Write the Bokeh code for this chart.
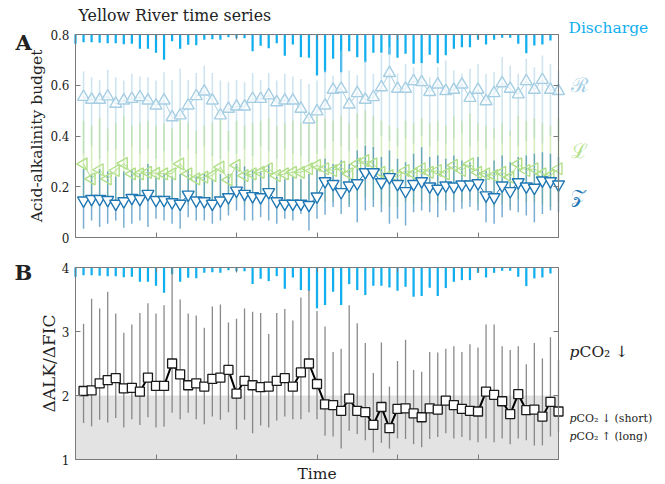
import numpy as np
from bokeh.plotting import figure
from bokeh.layouts import column
from bokeh.models import Range1d, FixedTicker, LinearAxis, Label, BoxAnnotation
from bokeh.embed import file_html
from bokeh.resources import INLINE

# ---------------- data ----------------
time_idx = list(range(1, 61))          # sample index (markers)
discharge_idx = list(range(0, 60))     # discharge sample index

# relative discharge (arbitrary units)
discharge = [0.28, 0.23, 0.23, 0.25, 0.26, 0.26, 0.29, 0.28, 0.43, 0.43, 0.55, 0.76, 0.20, 0.43, 0.31,
             0.32, 0.16, 0.14, 0.16, 0.08, 0.11, 0.11, 0.50, 0.34, 0.41, 0.26, 0.64, 0.30, 0.68, 0.70,
             1.23, 1.13, 0.73, 1.13, 0.50, 0.68, 0.83, 0.55, 0.55, 0.60, 0.70, 0.58, 0.88, 0.86, 0.61,
             0.86, 0.62, 0.43, 0.38, 0.38, 0.16, 0.30, 0.16, 0.10, 0.10, 0.28, 0.56, 0.33, 0.30, 0.18]

R = [0.554, 0.543, 0.543, 0.556, 0.527, 0.540, 0.546, 0.553, 0.540, 0.520, 0.540, 0.474, 0.481, 0.520, 0.557,
     0.575, 0.540, 0.481, 0.507, 0.516, 0.516, 0.546, 0.546, 0.560, 0.533, 0.540, 0.540, 0.507, 0.465, 0.497,
     0.520, 0.582, 0.586, 0.524, 0.569, 0.543, 0.553, 0.592, 0.648, 0.586, 0.586, 0.616, 0.612, 0.573, 0.603,
     0.577, 0.582, 0.603, 0.550, 0.582, 0.537, 0.569, 0.608, 0.586, 0.564, 0.616, 0.582, 0.621, 0.582, 0.577]
R_hi = [0.655, 0.632, 0.621, 0.661, 0.632, 0.619, 0.645, 0.634, 0.632, 0.619, 0.651, 0.621, 0.665, 0.621, 0.648,
        0.678, 0.648, 0.619, 0.612, 0.621, 0.612, 0.648, 0.621, 0.648, 0.619, 0.645, 0.634, 0.625, 0.606, 0.619,
        0.658, 0.638, 0.737, 0.658, 0.640, 0.698, 0.645, 0.724, 0.750, 0.645, 0.684, 0.671, 0.684, 0.632, 0.671,
        0.698, 0.658, 0.645, 0.665, 0.684, 0.645, 0.651, 0.711, 0.678, 0.645, 0.704, 0.671, 0.717, 0.684, 0.658]
R_lo = [0.33, 0.36, 0.31, 0.34, 0.35, 0.32, 0.36, 0.33, 0.35, 0.31, 0.34, 0.30, 0.32, 0.35, 0.33,
        0.36, 0.32, 0.31, 0.34, 0.33, 0.35, 0.32, 0.36, 0.34, 0.31, 0.35, 0.33, 0.32, 0.30, 0.33,
        0.35, 0.38, 0.36, 0.34, 0.39, 0.37, 0.35, 0.40, 0.38, 0.36, 0.39, 0.37, 0.40, 0.36, 0.38,
        0.37, 0.39, 0.41, 0.36, 0.38, 0.35, 0.39, 0.37, 0.40, 0.36, 0.38, 0.39, 0.37, 0.40, 0.38]

Lb = [0.290, 0.231, 0.267, 0.231, 0.264, 0.292, 0.251, 0.251, 0.257, 0.253, 0.251, 0.251, 0.290, 0.251, 0.231,
      0.238, 0.244, 0.277, 0.227, 0.284, 0.244, 0.251, 0.257, 0.271, 0.244, 0.251, 0.257, 0.257, 0.271, 0.284,
      0.271, 0.264, 0.277, 0.251, 0.290, 0.303, 0.290, 0.257, 0.244, 0.238, 0.264, 0.251, 0.271, 0.257, 0.264,
      0.251, 0.284, 0.264, 0.290, 0.257, 0.251, 0.244, 0.257, 0.238, 0.290, 0.264, 0.271, 0.251, 0.244, 0.271]
L_hi = [0.46, 0.44, 0.47, 0.43, 0.45, 0.48, 0.44, 0.45, 0.46, 0.44, 0.45, 0.43, 0.47, 0.45, 0.42,
        0.44, 0.45, 0.47, 0.42, 0.46, 0.44, 0.45, 0.46, 0.47, 0.44, 0.45, 0.46, 0.45, 0.47, 0.48,
        0.47, 0.46, 0.48, 0.45, 0.49, 0.50, 0.48, 0.46, 0.44, 0.43, 0.46, 0.45, 0.47, 0.45, 0.46,
        0.44, 0.48, 0.46, 0.49, 0.45, 0.44, 0.43, 0.45, 0.42, 0.48, 0.46, 0.47, 0.45, 0.44, 0.47]
L_lo = [0.14, 0.12, 0.15, 0.12, 0.14, 0.16, 0.13, 0.13, 0.14, 0.13, 0.14, 0.13, 0.16, 0.13, 0.12,
        0.12, 0.13, 0.15, 0.11, 0.15, 0.13, 0.13, 0.14, 0.15, 0.13, 0.13, 0.14, 0.14, 0.15, 0.15,
        0.14, 0.14, 0.15, 0.13, 0.15, 0.16, 0.15, 0.13, 0.12, 0.12, 0.14, 0.13, 0.14, 0.13, 0.14,
        0.13, 0.15, 0.14, 0.15, 0.13, 0.13, 0.12, 0.13, 0.12, 0.15, 0.14, 0.14, 0.13, 0.12, 0.14]

Z = [0.146, 0.152, 0.152, 0.148, 0.133, 0.143, 0.156, 0.152, 0.172, 0.148, 0.148, 0.139, 0.133, 0.169, 0.146,
     0.143, 0.133, 0.146, 0.159, 0.185, 0.172, 0.163, 0.159, 0.179, 0.143, 0.133, 0.133, 0.133, 0.128, 0.162,
     0.222, 0.211, 0.179, 0.205, 0.214, 0.257, 0.257, 0.218, 0.238, 0.211, 0.183, 0.211, 0.222, 0.201, 0.192,
     0.205, 0.201, 0.209, 0.209, 0.214, 0.166, 0.159, 0.205, 0.183, 0.218, 0.201, 0.196, 0.225, 0.222, 0.209]
Z_hi = [0.27, 0.25, 0.27, 0.26, 0.24, 0.26, 0.27, 0.25, 0.29, 0.24, 0.25, 0.24, 0.25, 0.27, 0.24,
        0.25, 0.23, 0.25, 0.25, 0.29, 0.28, 0.27, 0.26, 0.29, 0.24, 0.23, 0.24, 0.23, 0.25, 0.27,
        0.310, 0.290, 0.303, 0.290, 0.343, 0.363, 0.356, 0.317, 0.343, 0.310, 0.297, 0.330, 0.356, 0.317, 0.323,
        0.310, 0.323, 0.303, 0.297, 0.317, 0.264, 0.303, 0.323, 0.297, 0.317, 0.323, 0.330, 0.336, 0.330, 0.317]
Z_lo = [0.034, 0.067, 0.041, 0.054, 0.067, 0.038, 0.054, 0.067, 0.041, 0.074, 0.067, 0.054, 0.034, 0.080, 0.067,
        0.067, 0.054, 0.067, 0.087, 0.106, 0.067, 0.067, 0.080, 0.067, 0.054, 0.074, 0.067, 0.093, 0.028, 0.074,
        0.090, 0.120, 0.093, 0.120, 0.060, 0.106, 0.120, 0.100, 0.054, 0.074, 0.047, 0.100, 0.106, 0.100, 0.080,
        0.106, 0.100, 0.113, 0.120, 0.106, 0.060, 0.054, 0.080, 0.106, 0.100, 0.087, 0.060, 0.093, 0.106, 0.100]

ratio = [2.07, 2.08, 2.19, 2.24, 2.27, 2.11, 2.12, 2.06, 2.28, 2.15, 2.15, 2.50, 2.33, 2.16, 2.19,
         2.14, 2.26, 2.28, 2.40, 2.03, 2.23, 2.16, 2.13, 2.14, 2.23, 2.27, 2.14, 2.36, 2.50, 2.18,
         1.86, 1.85, 1.76, 1.95, 1.76, 1.74, 1.54, 1.82, 1.49, 1.79, 1.80, 1.72, 1.66, 1.80, 1.78,
         1.92, 1.85, 1.79, 1.76, 1.75, 2.06, 2.01, 1.91, 1.71, 2.02, 1.77, 1.78, 1.67, 1.90, 1.75]
ratio_hi = [3.12, 3.51, 3.36, 3.62, 3.28, 2.98, 3.11, 3.29, 3.44, 3.28, 3.41, 4.00, 3.50, 3.28, 3.25,
            3.06, 3.39, 3.42, 3.14, 3.20, 3.36, 3.31, 3.29, 2.96, 3.29, 3.35, 3.17, 3.53, 3.65, 3.32,
            3.08, 2.68, 2.73, 3.41, 3.13, 2.82, 2.35, 2.83, 2.14, 2.54, 2.87, 2.40, 2.37, 2.68, 2.67,
            2.73, 2.77, 2.68, 2.80, 2.75, 3.11, 3.11, 2.77, 2.71, 2.77, 2.49, 2.82, 2.58, 2.91, 2.55]
ratio_lo = [1.57, 1.52, 1.62, 1.58, 1.65, 1.50, 1.63, 1.54, 1.66, 1.50, 1.51, 1.73, 1.63, 1.73, 1.63,
            1.55, 1.67, 1.62, 1.74, 1.47, 1.62, 1.41, 1.53, 1.50, 1.61, 1.67, 1.63, 1.63, 1.74, 1.63,
            1.37, 1.36, 1.17, 1.45, 1.40, 1.30, 1.11, 1.26, 1.17, 1.33, 1.32, 1.24, 1.19, 1.32, 1.35,
            1.41, 1.33, 1.35, 1.30, 1.27, 1.33, 1.27, 1.33, 1.24, 1.33, 1.30, 1.22, 1.22, 1.36, 1.43]

x_ticks = [0, 10, 20, 30, 40, 50, 60]
yA_ticks = [0, 0.2, 0.4, 0.6, 0.8]
yB_ticks = [1, 2, 3, 4]

# ---------------- styles ----------------
FONT = "DejaVu Serif"
AX = "#7a7a7a"
TXT = "#222222"
C_R, C_L, C_Z = "#A6CEE3", "#B2DF8A", "#1F78B4"
C_Q = "#12AFEE"
DIS_SCALE_A = 0.1314   # data units of panel A per discharge unit
DIS_SCALE_B = 0.519    # data units of panel B per discharge unit

X0, X1 = 0, 60
PXU = 8.05                      # px per x unit
X_RANGE = (X0 - 75 / PXU, X0 + (665 - 75) / PXU)


def make_fig(h, y0, y1, top_px, bottom_px):
    pyu = (bottom_px - top_px) / (y1 - y0)
    yr = Range1d(y0 - (h - bottom_px) / pyu, y1 + top_px / pyu)
    p = figure(width=665, height=h, x_range=Range1d(*X_RANGE), y_range=yr,
               output_backend="svg", toolbar_location=None,
               x_axis_location=None, y_axis_location=None,
               min_border_left=0, min_border_right=0, min_border_top=0, min_border_bottom=0)
    p.title.visible = False
    p.xgrid.visible = False
    p.ygrid.visible = False
    p.outline_line_color = None
    p.background_fill_color = "white"
    p.border_fill_color = "white"
    return p


def add_axes(p, y0, y1, yt):
    specs = [("left", X0, (y0, y1), yt, True), ("right", X1, (y0, y1), yt, False),
             ("below", y0, (X0, X1), x_ticks, False), ("above", y1, (X0, X1), x_ticks, False)]
    for loc, fixed, bnds, tk, labelled in specs:
        ax = LinearAxis(ticker=FixedTicker(ticks=tk), fixed_location=fixed, bounds=bnds,
                        major_tick_in=5, major_tick_out=0, minor_tick_line_color=None,
                        axis_line_color=AX, major_tick_line_color=AX,
                        major_label_text_font=FONT, major_label_text_font_size="12px",
                        major_label_text_color=TXT, major_label_standoff=6)
        if not labelled:
            ax.major_label_overrides = {t: "" for t in tk}
        p.add_layout(ax, loc)


def lab(p, x, y, text, size, color=TXT, style_="normal", align="left", baseline="alphabetic",
        angle=0.0, x_offset=0):
    p.add_layout(Label(x=x, y=y, text=text, text_font=FONT, text_font_size=size,
                       text_color=color, text_font_style=style_, text_align=align,
                       text_baseline=baseline, angle=angle, angle_units="deg",
                       x_offset=x_offset))


# ---------------- panel A ----------------
p1 = make_fig(250, 0, 0.8, 34, 237)
add_axes(p1, 0, 0.8, yA_ticks)

dA = [0.8 - d * DIS_SCALE_A for d in discharge]
p1.vbar(x=discharge_idx, top=0.8, bottom=dA, width=0.28, color=C_Q, line_color=None)

p1.segment(x0=time_idx, y0=R_lo, x1=time_idx, y1=R_hi, line_color=C_R, line_alpha=0.55, line_width=1.6)
p1.segment(x0=time_idx, y0=L_lo, x1=time_idx, y1=L_hi, line_color=C_L, line_alpha=0.55, line_width=1.6)
p1.segment(x0=time_idx, y0=Z_lo, x1=time_idx, y1=Z_hi, line_color=C_Z, line_alpha=0.6, line_width=1.5)

p1.line(time_idx, R, line_color=C_R, line_width=1)
p1.scatter(time_idx, R, marker="triangle", size=12, line_color=C_R, fill_color="white",
           fill_alpha=0.6, line_width=1.4)
p1.line(time_idx, Lb, line_color=C_L, line_width=1)
p1.scatter(time_idx, Lb, marker="triangle", angle=np.pi / 2, size=12, line_color=C_L,
           fill_color=None, line_width=1.4)
p1.line(time_idx, Z, line_color=C_Z, line_width=1)
p1.scatter(time_idx, Z, marker="inverted_triangle", size=12, line_color=C_Z, fill_color="white",
           line_width=1.4)

lab(p1, 0.37, 0.873, "Yellow River time series", "15.8px")
lab(p1, -7.45, 0.768, "A", "21px", style_="bold")
lab(p1, -4.73, 0.4, "Acid-alkalinity budget", "15.5px", align="center", angle=90)
lab(p1, 61.24, 0.824, "Discharge", "15.5px", color=C_Q)
lab(p1, 61.5, 0.600, "ℛ", "20px", color=C_R, baseline="middle")
lab(p1, 61.5, 0.342, "ℒ", "20px", color=C_L, baseline="middle")
lab(p1, 61.5, 0.162, "𝒵", "19px", color=C_Z, baseline="middle")

# ---------------- panel B ----------------
p2 = make_fig(234, 1, 4, 17, 209)
p2.add_layout(BoxAnnotation(left=X0, right=X1, bottom=1, top=2, fill_color="#E3E3E3",
                            fill_alpha=1, line_color=None, level="underlay"))
add_axes(p2, 1, 4, yB_ticks)

dB = [4 - d * DIS_SCALE_B for d in discharge]
p2.vbar(x=discharge_idx, top=4, bottom=dB, width=0.28, color=C_Q, line_color=None)

p2.segment(x0=time_idx, y0=ratio_lo, x1=time_idx, y1=ratio_hi, line_color="#7d7d7d",
           line_alpha=0.9, line_width=1.3)
p2.line(time_idx, ratio, line_color="black", line_width=2)
p2.scatter(time_idx, ratio, marker="square", size=9, line_color="#1a1a1a", fill_color="white",
           line_width=1.3)

lab(p2, -7.58, 3.918, "B", "21px", style_="bold")
lab(p2, -3.35, 2.5, "ΔALK/ΔFIC", "17px", align="center", angle=90)
lab(p2, 30, 0.77, "Time", "15.5px", align="center", baseline="middle")
lab(p2, 61.37, 2.679, "p", "15.5px", style_="italic")
lab(p2, 61.37, 2.679, "CO₂ ↓", "15.5px", x_offset=10)
lab(p2, 61.37, 1.637, "p", "11px", style_="italic")
lab(p2, 61.37, 1.637, "CO₂ ↓ (short)", "11px", x_offset=7)
lab(p2, 61.37, 1.367, "p", "11px", style_="italic")
lab(p2, 61.37, 1.367, "CO₂ ↑ (long)", "11px", x_offset=7)

layout = column(p1, p2)
open("out.html", "w").write(file_html(layout, INLINE))
